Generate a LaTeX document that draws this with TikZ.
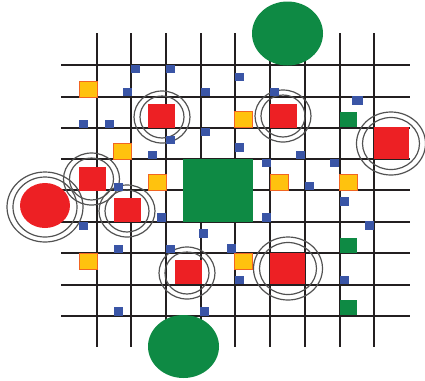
\documentclass[tikz,border=0pt]{standalone}
\definecolor{rd}{HTML}{ED2024}
\definecolor{gn}{HTML}{0E8A44}
\definecolor{yl}{HTML}{FFC20E}
\definecolor{yo}{HTML}{F26522}
\definecolor{bl}{HTML}{3A55A6}
\definecolor{ln}{HTML}{231F20}
\begin{document}
\begin{tikzpicture}[x=0.75pt,y=-0.75pt,
  gridline/.style={line width=1.5pt,draw=ln},
  ring/.style={line width=0.9pt,draw=black!68},
  redfill/.style={fill=rd},
  greenfill/.style={fill=gn},
  bluefill/.style={fill=bl},
  yellowbox/.style={fill=yl,draw=yo,line width=0.6pt}]
\useasboundingbox (0,0) rectangle (425,380);
% grid
\foreach \x in {97,131,166,201,235,270,305,340,374}
  \draw[gridline] (\x,33) -- (\x,347);
\foreach \y in {65,96.5,127.5,158.5,190,221.5,253,284.5,315.7}
  \draw[gridline] (61,\y) -- (410,\y);
% rings around small red squares
\foreach \cx/\cy in {162/117,283/116,91.5/179,127/211,187/273}{
  \draw[ring] (\cx,\cy) ellipse [x radius=28, y radius=26];
  \draw[ring] (\cx,\cy) ellipse [x radius=22, y radius=21];
}
% rings around large red squares
\foreach \cx/\cy in {391/143.5,288/268.5}{
  \draw[ring] (\cx,\cy) ellipse [x radius=34.5, y radius=31.5];
  \draw[ring] (\cx,\cy) ellipse [x radius=28.5, y radius=26];
}
% rings around red circle
\draw[ring] (45,207) ellipse [x radius=38, y radius=35];
\draw[ring] (45,207) ellipse [x radius=32, y radius=30];
% red shapes
\fill[redfill] (45,205.5) ellipse [x radius=25, y radius=22.5];
\foreach \cx/\cy in {161.5/115.5,283/115.5,92/179,127/209.5,188/272}
  \fill[redfill] ({\cx-13.5},{\cy-12}) rectangle ({\cx+13.5},{\cy+12});
\fill[redfill] (374,127) rectangle (409,159);
\fill[redfill] (270,253) rectangle (305,284);
% green shapes
\fill[greenfill] (183,159) rectangle (253,221.5);
\fill[greenfill] (287.5,33.5) ellipse [x radius=35.5, y radius=32];
\fill[greenfill] (183.5,346.5) ellipse [x radius=35.5, y radius=31.5];
\foreach \cy in {119.5,245,307.5}
  \fill[greenfill] (340,{\cy-7.5}) rectangle (357,{\cy+7.5});
% yellow squares
\foreach \cx/\cy in {88/89,122.5/151,157/182,243.5/119.5,279/182,348.5/182,88/261,243.5/261}
  \draw[yellowbox] ({\cx-9},{\cy-8}) rectangle ({\cx+9},{\cy+8});
% blue squares
\foreach \cx/\cy in {135/69,170/69,127/92,205/92,83.5/124,109.5/124,205/132,170/140,152.5/155,118.5/187,
  239.5/77,274.5/92,239.5/147.5,300/155,266/163,334.5/163,309.5/186,344.5/201.5,266/217.5,369/225.5,
  231/248.5,239/280,344.5/280,83.5/226,161.5/217.5,203.5/233.5,118.5/249,170/249,118.5/311.5,204.5/311.5}
  \fill[bluefill] ({\cx-4.5},{\cy-4.2}) rectangle ({\cx+4.5},{\cy+4.2});
\fill[bluefill] (351.5,96) rectangle (362.5,105);
\end{tikzpicture}
\end{document}
